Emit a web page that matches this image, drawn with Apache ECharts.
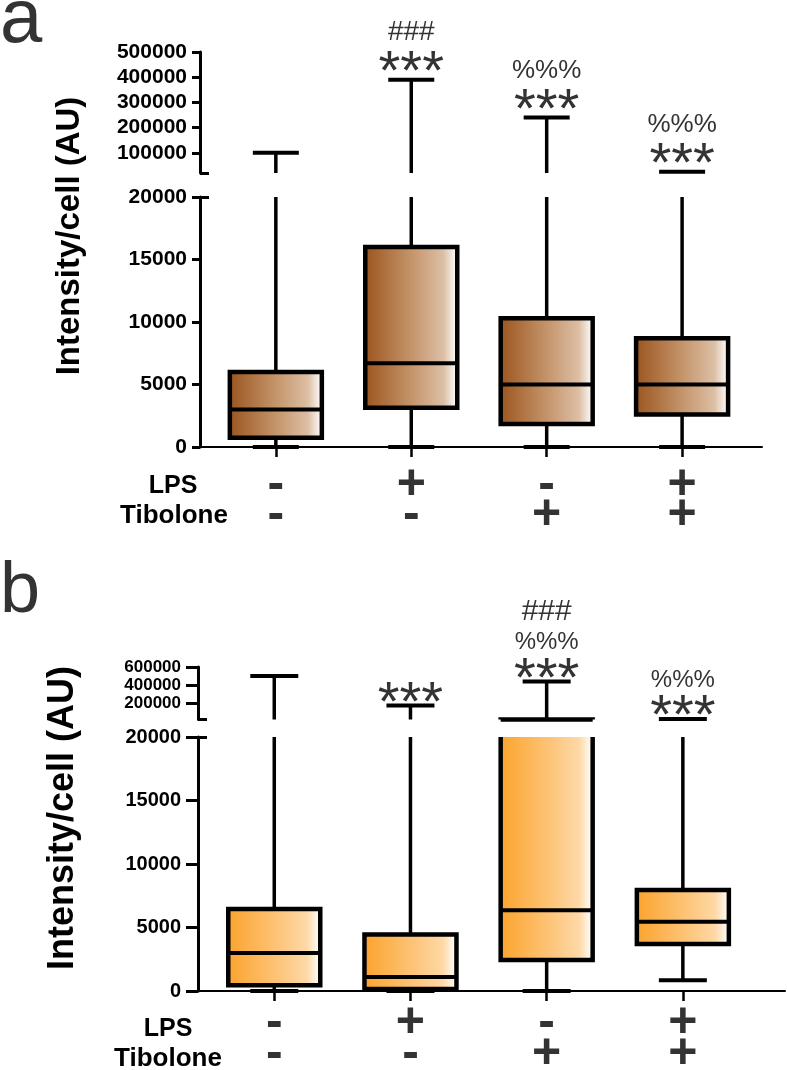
<!DOCTYPE html>
<html lang="en">
<head>
  <meta charset="UTF-8">
  <title>Intensity per cell</title>
  <style>
    html, body { margin: 0; padding: 0; background: #fff; }
  </style>
</head>
<body>
  <div id="main" style="width: 787px; height: 1070px"></div>

  <script src="https://cdn.jsdelivr.net/npm/echarts@6/dist/echarts.min.js"></script>
  <script>
    // treatment rows under the boxes
    var lpsSigns = ['-', '+', '-', '+'];
    var tiboloneSigns = ['-', '-', '+', '+'];

    // panel a (brown): min, Q1, median, Q3, max per group
    var aMin = [0, 0, 0, 0];
    var aQ1 = [750, 3150, 1850, 2600];
    var aMedian = [3000, 6700, 5000, 5000];
    var aQ3 = [6000, 16000, 10300, 8700];
    var aMax = [100000, 390000, 240000, 25000];
    var aMarks = [[], ['***', '###'], ['***', '%%%'], ['***', '%%%']];

    // panel b (orange)
    var bMin = [0, 0, 0, 850];
    var bQ1 = [450, 150, 2450, 3700];
    var bMedian = [3000, 1100, 6350, 5450];
    var bQ3 = [6450, 4450, 21000, 7950];
    var bMax = [500000, 175000, 440000, 25000];
    var bMarks = [[], ['***'], ['***', '%%%', '###'], ['***', '%%%']];

    // broken y axis: ticks of the upper parts
    var aHighTicks = [100000, 200000, 300000, 400000, 500000];
    var bHighTicks = [200000, 400000, 600000];
    var groupTicks = [1, 2, 3, 4];

    var FONT = '"Liberation Sans", Arial, Helvetica, sans-serif';

    function makeData(mn, q1, md, q3, mx) {
      return mn.map(function (v, i) { return [i + 1, v, q1[i], md[i], q3[i], mx[i]]; });
    }

    function makeRender(range, marks, look) {
      return function (params, api) {
        var idx = params.dataIndex;
        var x = api.value(0);
        var mn = api.value(1), q1 = api.value(2), md = api.value(3), q3 = api.value(4), mx = api.value(5);
        var lo = range[0], hi = range[1];
        var cx = api.coord([x, lo])[0];
        var Y = function (v) { return api.coord([x, v])[1]; };
        var kids = [];
        var seg = function (x1, y1, x2, y2, w) {
          kids.push({ type: 'line', shape: { x1: x1, y1: y1, x2: x2, y2: y2 }, style: { stroke: '#000', lineWidth: w } });
        };
        var a, b;
        // whiskers
        a = Math.max(mn, lo); b = Math.min(q1, hi);
        if (b > a) seg(cx, Y(a), cx, Y(b), 3.5);
        a = Math.max(q3, lo); b = Math.min(mx, hi);
        if (b > a) seg(cx, Y(a), cx, Y(b), 3.5);
        if (mn >= lo && mn <= hi) seg(cx - look.cap, Y(mn), cx + look.cap, Y(mn), 4);
        if (mx >= lo && mx <= hi) seg(cx - look.cap, Y(mx), cx + look.cap, Y(mx), 4);
        // box, cut at the axis break if needed
        if (q3 >= lo && q1 <= hi) {
          var top = Y(Math.min(q3, hi)), bot = Y(Math.max(q1, lo));
          var L = cx - look.half, R = cx + look.half;
          kids.push({
            type: 'rect',
            shape: { x: L, y: top, width: R - L, height: bot - top },
            style: { fill: new echarts.graphic.LinearGradient(0, 0, 1, 0, look.stops) }
          });
          var hasTop = q3 <= hi, hasBot = q1 >= lo;
          if (hasTop && hasBot) {
            kids.push({ type: 'polygon', shape: { points: [[L, top], [L, bot], [R, bot], [R, top]] },
              style: { fill: null, stroke: '#000', lineWidth: 4.5 } });
          } else if (hasBot) {
            kids.push({ type: 'polyline', shape: { points: [[L, top], [L, bot], [R, bot], [R, top]] },
              style: { fill: null, stroke: '#000', lineWidth: 4.5 } });
          } else if (hasTop) {
            kids.push({ type: 'polyline', shape: { points: [[L, bot], [L, top], [R, top], [R, bot]] },
              style: { fill: null, stroke: '#000', lineWidth: 4.5 } });
          }
          if (md >= lo && md <= hi) seg(L, Y(md), R, Y(md), 4);
        }
        // significance marks above the top whisker
        if (mx >= lo && mx <= hi && marks[idx]) {
          marks[idx].forEach(function (txt, k) {
            var fs = look.markSize[txt.charAt(0)];
            var adj = txt.charAt(0) === '*' ? 0.23 * fs : 0;
            kids.push({
              type: 'text',
              style: {
                text: txt, x: cx, y: Y(mx) - look.markOff[k] + adj,
                align: 'center', verticalAlign: 'middle',
                font: fs + 'px ' + FONT, fill: '#333'
              }
            });
          });
        }
        return { type: 'group', children: kids };
      };
    }

    function boxSeries(data, marks, range, axisIdx, look) {
      return {
        type: 'custom',
        xAxisIndex: axisIdx,
        yAxisIndex: axisIdx * 2,
        data: data,
        silent: true,
        encode: { x: 0, y: [1, 2, 3, 4, 5] },
        renderItem: makeRender(range, marks, look)
      };
    }

    function signLabel(v) {
      return '{s|' + lpsSigns[v - 1] + '}\n{s|' + tiboloneSigns[v - 1] + '}';
    }

    function hiddenX(grid, max) {
      return { type: 'value', gridIndex: grid, min: 0.44, max: max, show: false, splitLine: { show: false } };
    }

    function signX(grid, max, margin, lh) {
      return {
        type: 'value', gridIndex: grid, min: 0.44, max: max,
        splitLine: { show: false },
        axisLine: { lineStyle: { color: '#000', width: 2 } },
        axisTick: { customValues: groupTicks, interval: 0, length: 10, lineStyle: { color: '#000', width: 2.5 } },
        axisLabel: {
          customValues: groupTicks, interval: 0, hideOverlap: false, margin: margin, formatter: signLabel,
          rich: { s: { fontSize: 50, fontWeight: 'bold', color: '#333', fontFamily: FONT, lineHeight: lh, align: 'center' } }
        }
      };
    }

    function mainY(grid, min, max, ticks, interval, fontSize, tickLen, margin) {
      var ax = {
        type: 'value', gridIndex: grid, min: min, max: max, position: 'left',
        splitLine: { show: false },
        axisLine: { show: true, lineStyle: { color: '#000', width: 3 } },
        axisTick: { show: true, interval: 0, length: tickLen, lineStyle: { color: '#000', width: 3 } },
        axisLabel: {
          interval: 0, hideOverlap: false, showMinLabel: true, showMaxLabel: true,
          fontSize: fontSize, lineHeight: fontSize, fontWeight: 'bold', color: '#000', fontFamily: FONT, margin: margin,
          formatter: function (v) { return String(v); }
        }
      };
      if (ticks) {
        ax.axisTick.customValues = ticks;
        ax.axisLabel.customValues = ticks;
      } else {
        ax.interval = interval;
      }
      return ax;
    }

    // short inward tick that marks the axis break
    function breakY(grid, min, max) {
      return {
        type: 'value', gridIndex: grid, min: min, max: max, position: 'left', offset: 0,
        splitLine: { show: false },
        axisLine: { show: false },
        axisLabel: { show: false },
        axisTick: { show: true, inside: true, interval: 0, length: 9, customValues: [20000], lineStyle: { color: '#000', width: 3 } }
      };
    }

    var brown = [
      { offset: 0, color: '#9c5620' },
      { offset: 0.5, color: '#c4946a' },
      { offset: 0.85, color: '#dcbfa5' },
      { offset: 1, color: '#ffffff' }
    ];
    var orange = [
      { offset: 0, color: '#fba42e' },
      { offset: 0.5, color: '#fdc273' },
      { offset: 0.85, color: '#fed8a6' },
      { offset: 1, color: '#ffffff' }
    ];
    var lookA = { stops: brown, half: 46, cap: 23, markOff: [19, 47], markSize: { '*': 56, '%': 26, '#': 28 } };
    var lookB = { stops: orange, half: 46, cap: 24, markOff: [14, 39, 70], markSize: { '*': 56, '%': 24, '#': 30 } };

    var dataA = makeData(aMin, aQ1, aMedian, aQ3, aMax);
    var dataB = makeData(bMin, bQ1, bMedian, bQ3, bMax);

    var chart = echarts.init(document.getElementById('main'), null, { renderer: 'canvas' });

    var option = {
      animation: false,
      backgroundColor: '#fff',
      grid: [
        { left: 200, top: 52, width: 562, height: 121, outerBoundsMode: 'none' },
        { left: 200, top: 197, width: 562, height: 250, outerBoundsMode: 'none' },
        { left: 198, top: 667, width: 587, height: 52.5, outerBoundsMode: 'none' },
        { left: 198, top: 737, width: 587, height: 254, outerBoundsMode: 'none' }
      ],
      xAxis: [
        hiddenX(0, 4.59),
        signX(1, 4.59, 23, 30),
        hiddenX(2, 4.75),
        signX(3, 4.75, 17, 31)
      ],
      yAxis: [
        mainY(0, 20000, 500000, aHighTicks, null, 21, 8, 13),
        breakY(0, 20000, 500000),
        mainY(1, 0, 20000, null, 5000, 21, 8, 13),
        breakY(1, 0, 20000),
        mainY(2, 20000, 600000, bHighTicks, null, 17, 12, 17),
        breakY(2, 20000, 600000),
        mainY(3, 0, 20000, null, 5000, 20, 12, 17),
        breakY(3, 0, 20000)
      ],
      graphic: [
        { type: 'text', x: 0, y: 21, style: { text: 'a', font: '76px ' + FONT, fill: '#333', align: 'left', verticalAlign: 'middle' } },
        { type: 'text', x: 0, y: 592, style: { text: 'b', font: '72px ' + FONT, fill: '#333', align: 'left', verticalAlign: 'middle' } },
        { type: 'text', x: 70, y: 236, rotation: Math.PI / 2,
          style: { text: 'Intensity/cell (AU)', font: 'bold 33px ' + FONT, fill: '#000', align: 'center', verticalAlign: 'middle' } },
        { type: 'text', x: 63, y: 818, rotation: Math.PI / 2,
          style: { text: 'Intensity/cell (AU)', font: 'bold 36px ' + FONT, fill: '#000', align: 'center', verticalAlign: 'middle' } },
        { type: 'text', x: 173, y: 486, style: { text: 'LPS', font: 'bold 25px ' + FONT, fill: '#000', align: 'center', verticalAlign: 'middle' } },
        { type: 'text', x: 174, y: 516, style: { text: 'Tibolone', font: 'bold 26px ' + FONT, fill: '#000', align: 'center', verticalAlign: 'middle' } },
        { type: 'text', x: 168, y: 1029, style: { text: 'LPS', font: 'bold 25px ' + FONT, fill: '#000', align: 'center', verticalAlign: 'middle' } },
        { type: 'text', x: 168, y: 1059, style: { text: 'Tibolone', font: 'bold 26px ' + FONT, fill: '#000', align: 'center', verticalAlign: 'middle' } }
      ],
      series: [
        boxSeries(dataA, aMarks, [20000, 500000], 0, lookA),
        boxSeries(dataA, aMarks, [0, 20000], 1, lookA),
        boxSeries(dataB, bMarks, [20000, 600000], 2, lookB),
        boxSeries(dataB, bMarks, [0, 20000], 3, lookB)
      ]
    };

    chart.setOption(option);
  </script>
</body>
</html>
